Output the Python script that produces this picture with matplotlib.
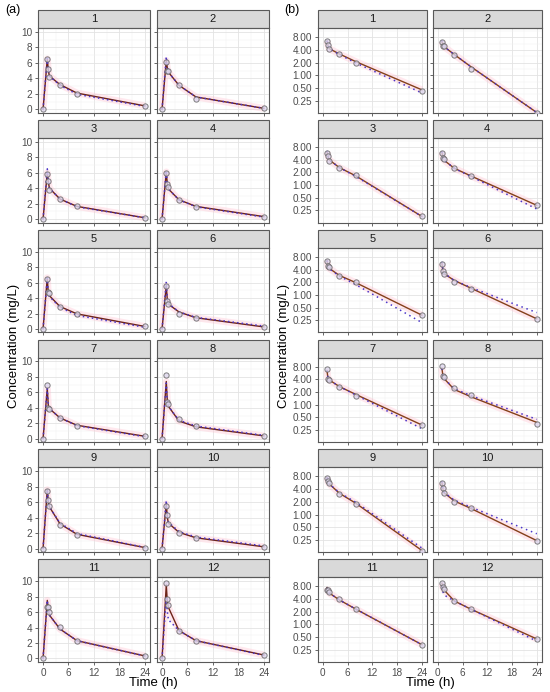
import numpy as np
import matplotlib
matplotlib.use("Agg")
import matplotlib.pyplot as plt
from matplotlib.patches import Rectangle
from matplotlib.ticker import FixedLocator, FixedFormatter

plt.rcParams['font.family'] = ['Liberation Sans', 'DejaVu Sans']

# sampling times (h)
times = [0, 1, 1.25, 1.5, 4, 8, 24]
subjects = ['1', '2', '3', '4', '5', '6', '7', '8', '9', '10', '11', '12']

# observed concentrations (mg/L)
obs = [
    [0, 6.5, 5.2, 4.2, 3.2, 2.0, 0.43],
    [0, 6.1, 5.0, 4.9, 3.1, 1.4, 0.13],
    [0, 5.8, 4.9, 3.8, 2.6, 1.7, 0.18],
    [0, 5.9, 4.5, 4.2, 2.5, 1.6, 0.33],
    [0, 6.5, 4.8, 4.6, 2.8, 2.0, 0.33],
    [0, 5.5, 3.6, 3.2, 2.0, 1.4, 0.27],
    [0, 6.9, 4.0, 3.8, 2.7, 1.65, 0.33],
    [0, 8.3, 4.8, 4.5, 2.5, 1.7, 0.35],
    [0, 7.5, 6.3, 5.5, 3.1, 1.8, 0.14],
    [0, 5.5, 4.3, 3.2, 2.0, 1.4, 0.24],
    [0, 6.7, 6.7, 6.0, 4.1, 2.3, 0.33],
    [0, 9.8, 7.7, 6.9, 3.6, 2.3, 0.45],
]
# individual predictions
ipred = [
    [0, 6.5, 5.0, 4.3, 3.2, 2.1, 0.45],
    [0, 6.3, 5.3, 4.8, 3.1, 1.6, 0.13],
    [0, 6.0, 4.8, 4.0, 2.6, 1.65, 0.18],
    [0, 6.1, 4.5, 3.9, 2.5, 1.65, 0.33],
    [0, 6.6, 4.5, 4.3, 2.9, 1.95, 0.33],
    [0, 5.6, 3.7, 3.2, 2.2, 1.45, 0.27],
    [0, 6.5, 4.2, 3.9, 2.7, 1.75, 0.33],
    [0, 7.4, 4.8, 4.2, 2.3, 1.55, 0.38],
    [0, 7.6, 6.0, 5.4, 3.2, 1.85, 0.14],
    [0, 5.8, 4.0, 3.3, 2.1, 1.4, 0.24],
    [0, 7.5, 6.3, 5.6, 3.8, 2.3, 0.33],
    [0, 9.5, 7.3, 6.6, 3.6, 2.3, 0.45],
]
# population predictions
pred = [
    [0, 6.6, 5.0, 4.3, 3.1, 1.95, 0.38],
    [0, 6.8, 5.4, 4.8, 3.1, 1.6, 0.13],
    [0, 6.5, 4.8, 4.0, 2.6, 1.6, 0.18],
    [0, 6.3, 4.5, 3.9, 2.5, 1.6, 0.27],
    [0, 6.6, 4.5, 4.2, 2.8, 1.75, 0.22],
    [0, 6.1, 3.8, 3.3, 2.2, 1.5, 0.38],
    [0, 6.5, 4.2, 3.9, 2.7, 1.7, 0.27],
    [0, 7.2, 4.8, 4.2, 2.4, 1.65, 0.45],
    [0, 7.6, 6.0, 5.4, 3.3, 1.95, 0.16],
    [0, 6.2, 4.0, 3.4, 2.2, 1.5, 0.35],
    [0, 7.5, 6.3, 5.6, 3.8, 2.3, 0.33],
    [0, 8.0, 6.0, 5.0, 3.6, 2.3, 0.40],
]

x_ticks = [0, 6, 12, 18, 24]
lin_ticks = [0, 2, 4, 6, 8, 10]
log_ticks = [0.25, 0.5, 1, 2, 4, 8]
log_labels = ['0.25', '0.50', '1.00', '2.00', '4.00', '8.00']

fig = plt.figure(figsize=(5.5, 6.92), dpi=100)
gs_a = fig.add_gridspec(6, 2, left=0.069, right=0.489, top=0.9595, bottom=0.0434,
                        wspace=0.0625, hspace=0.295)
gs_b = fig.add_gridspec(6, 2, left=0.578, right=0.985, top=0.9595, bottom=0.0434,
                        wspace=0.055, hspace=0.295)

strip_h = 18 / 84.8


def style_panel(ax, label, row, col):
    ax.set_facecolor('white')
    for s in ax.spines.values():
        s.set_color('#595959')
        s.set_linewidth(0.8)
    ax.tick_params(axis='both', length=2.5, width=0.6, color='#4d4d4d',
                   labelsize=7.2, labelcolor='#4d4d4d', pad=1.5)
    ax.tick_params(which='minor', length=0)
    ax.grid(True, which='major', color='#e3e3e3', lw=0.6)
    ax.grid(True, which='minor', color='#f0f0f0', lw=0.35)
    ax.set_axisbelow(True)
    ax.set_xlim(-1.2, 25.2)
    ax.xaxis.set_major_locator(FixedLocator(x_ticks))
    ax.xaxis.set_minor_locator(FixedLocator([3, 9, 15, 21]))
    if row != 5:
        ax.tick_params(axis='x', labelbottom=False)
    if col != 0:
        ax.tick_params(axis='y', labelleft=False)
    ax.add_patch(Rectangle((0, 1), 1, strip_h, transform=ax.transAxes, clip_on=False,
                           facecolor='#d9d9d9', edgecolor='#595959', lw=0.8))
    ax.text(0.5, 1 + strip_h / 2, label, transform=ax.transAxes, ha='center',
            va='center', fontsize=8, color='#1a1a1a')


for i, subj in enumerate(subjects):
    row, col = divmod(i, 2)
    # (a) linear scale
    ax = fig.add_subplot(gs_a[row, col])
    style_panel(ax, subj, row, col)
    ax.set_ylim(-0.45, 10.5)
    ax.yaxis.set_major_locator(FixedLocator(lin_ticks))
    ax.yaxis.set_minor_locator(FixedLocator([1, 3, 5, 7, 9]))
    ax.plot(times, ipred[i], color='#ffb6c8', lw=5, alpha=0.3, solid_capstyle='butt', zorder=1)
    ax.plot(times, ipred[i], color='#6e2418', lw=1.0, zorder=3)
    ax.plot(times, pred[i], color='#4a35c8', lw=1.1, ls=(0, (1, 2)), zorder=4)
    ax.plot(times, obs[i], 'o', ms=3.8, mfc='#ddd5ec', mec='#616161', mew=0.7,
            alpha=0.8, zorder=5)

    # (b) log scale
    ax = fig.add_subplot(gs_b[row, col])
    style_panel(ax, subj, row, col)
    ax.set_yscale('log')
    ax.set_ylim(0.128, 13.2)
    ax.yaxis.set_major_locator(FixedLocator(log_ticks))
    ax.yaxis.set_major_formatter(FixedFormatter(log_labels))
    ax.yaxis.set_minor_locator(FixedLocator([0.177, 0.354, 0.707, 1.414, 2.83, 5.66, 11.31]))
    ax.yaxis.set_minor_formatter(FixedFormatter([''] * 7))
    t = times[1:]
    ax.plot(t, ipred[i][1:], color='#ffb6c8', lw=5, alpha=0.3, solid_capstyle='butt', zorder=1)
    ax.plot(t, ipred[i][1:], color='#85401a', lw=1.0, zorder=3)
    ax.plot(t, pred[i][1:], color='#4a35c8', lw=1.1, ls=(0, (1, 2.5)), zorder=4)
    ax.plot(t, obs[i][1:], 'o', ms=3.8, mfc='#ddd5ec', mec='#616161', mew=0.7,
            alpha=0.8, zorder=5)

fig.text(5 / 550, 1 - 10 / 692, '(a)', fontsize=9, ha='left', va='center')
fig.text(284 / 550, 1 - 10 / 692, '(b)', fontsize=9, ha='left', va='center')
fig.text(14 / 550, 0.5, 'Concentration (mg/L)', rotation=90, fontsize=9.5,
         ha='center', va='center')
fig.text(284 / 550, 0.5, 'Concentration (mg/L)', rotation=90, fontsize=9.5,
         ha='center', va='center')
fig.text(153 / 550, 1 - 683 / 692, 'Time (h)', fontsize=9.5, ha='center', va='center')
fig.text(430 / 550, 1 - 683 / 692, 'Time (h)', fontsize=9.5, ha='center', va='center')

fig.savefig('out.png', dpi=100, facecolor='white')
